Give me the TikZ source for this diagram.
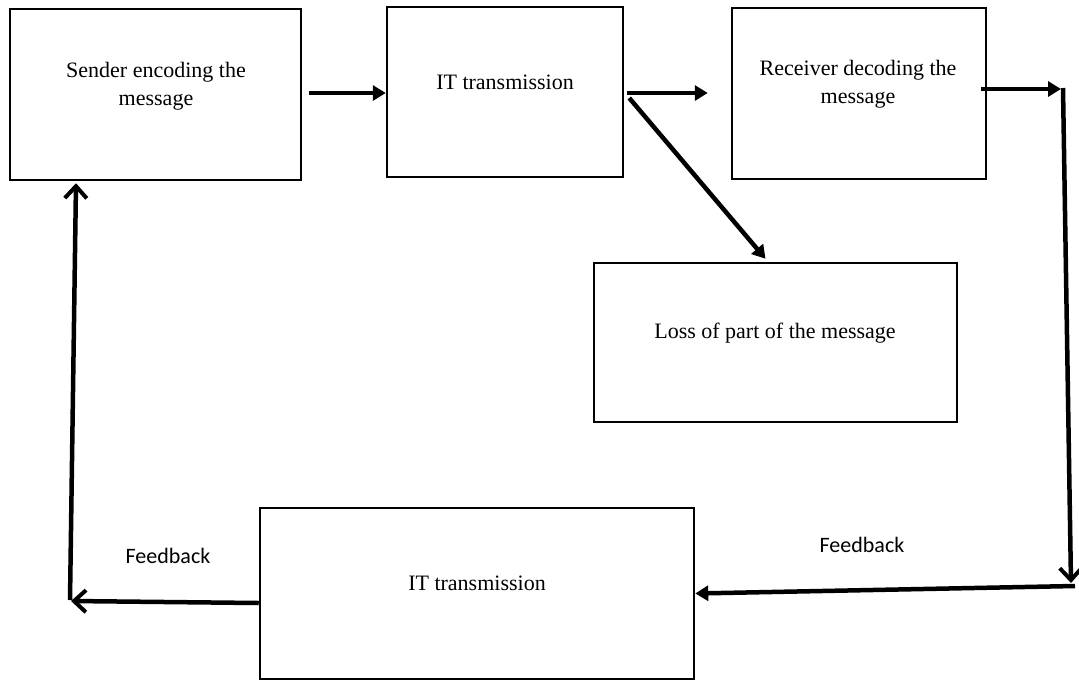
\documentclass[tikz,border=0pt]{standalone}
\usepackage{fontspec}
\setmainfont{Liberation Serif}
\newfontfamily\fbfont{Carlito}
\usetikzlibrary{arrows.meta}
\begin{document}
\begin{tikzpicture}[x=1pt,y=-1pt,
  box/.style={draw=black,line width=2.5pt,rectangle,inner sep=0pt},
  txt/.style={align=center,font=\fontsize{22}{28}\selectfont,inner sep=0pt},
  fb/.style={font=\fbfont\fontsize{22}{26}\selectfont,inner sep=0pt},
  arr/.style={line width=4.5pt,-{Triangle[length=13pt,width=15pt]}},
  barb/.style={line width=4.5pt,-{Straight Barb[length=12pt,width=22pt,line width=4pt]}},
  plain/.style={line width=4.5pt,line cap=butt}]
\useasboundingbox (0,0) rectangle (1079,681);
\node[box,minimum width=291pt,minimum height=171pt] (b1) at (155.5,94.5) {};
\node[box,minimum width=236pt,minimum height=170pt] (b2) at (505,92) {};
\node[box,minimum width=254pt,minimum height=171pt] (b3) at (859,93.5) {};
\node[box,minimum width=363pt,minimum height=159pt] (b4) at (775.5,342.5) {};
\node[box,minimum width=434pt,minimum height=171pt] (b5) at (477,593.5) {};
\node[txt] (t1) at (156,86) {Sender encoding the\\message};
\node[txt] (t2) at (505,82) {IT transmission};
\node[txt] (t3) at (858,84) {Receiver decoding the\\message};
\node[txt] (t4) at (775,333) {Loss of part of the message};
\node[txt] (t5) at (477,583) {IT transmission};
\node[fb] (f1) at (168,556) {Feedback};
\node[fb] (f2) at (862,545) {Feedback};
\coordinate (cTR) at (1061,89);
\coordinate (cTRv) at (1063,88);
\coordinate (cBR) at (1071,583);
\coordinate (cBRh) at (1075,586);
\coordinate (cBL) at (71,601);
\coordinate (cBLv) at (70,600);
\draw[arr] ([xshift=7pt,yshift=1.5pt]b1.east) -- ([yshift=-1pt]b2.west);
\draw[arr] ([xshift=3pt,yshift=-1pt]b2.east) -- ([xshift=-23pt,yshift=0.5pt]b3.west);
\draw[arr] ([xshift=5pt,yshift=-6pt]b2.east) -- ([xshift=-10pt,yshift=3pt]b4.north);
\draw[arr] ([xshift=-6pt,yshift=4.5pt]b3.east) -- (cTR);
\draw[barb] (cTRv) -- (cBR);
\draw[arr] (cBRh) -- (b5.east);
\draw[barb] ([yshift=-9.5pt]b5.west) -- (cBL);
\draw[barb] (cBLv) -- ([xshift=-79.5pt,yshift=-2pt]b1.south);
\end{tikzpicture}
\end{document}
